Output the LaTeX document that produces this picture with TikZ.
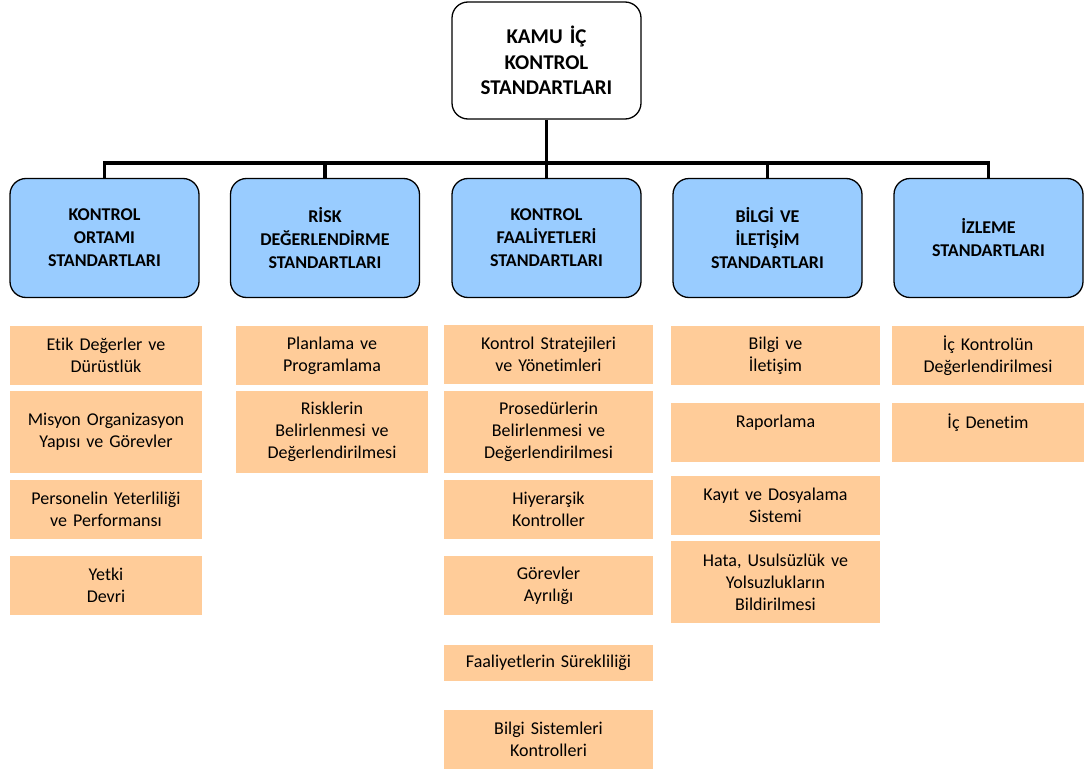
\documentclass[tikz,border=0pt]{standalone}
\usepackage{fontspec}
\setmainfont{Carlito}[Ligatures=NoCommon]
\definecolor{hblue}{HTML}{99CCFF}
\definecolor{iorange}{HTML}{FFCC99}
\tikzset{
  topbox/.style={draw=black, line width=1.3pt, fill=white, rounded corners=16pt, inner sep=0pt,
    minimum width=189pt, minimum height=117pt, text width=180pt, align=center,
    font=\fontsize{21}{25.5}\selectfont\bfseries},
  headbox/.style={draw=black, line width=1.3pt, fill=hblue, rounded corners=16pt, inner sep=0pt,
    minimum width=189pt, minimum height=119pt, text width=180pt, align=center,
    font=\fontsize{18}{23}\selectfont\bfseries},
  item/.style={fill=iorange, draw=none, inner sep=0pt, align=center,
    font=\fontsize{18}{22}\selectfont},
  wA/.style={minimum width=192pt, text width=186pt},
  wB/.style={minimum width=209pt, text width=203pt},
  hS/.style={minimum height=59pt},
  hL/.style={minimum height=82pt},
  hT/.style={minimum height=36pt},
  conn/.style={draw=black, line width=3.6pt}
}
\begin{document}
\begin{tikzpicture}[x=1pt,y=-1pt]
\useasboundingbox (0,0) rectangle (1088,771);
% top
\node[topbox] (top) at (546.5,60.5) {KAMU İÇ\\KONTROL\\STANDARTLARI};
% headers
\node[headbox] (h1) at (104.5,238) {KONTROL\\ORTAMI\\STANDARTLARI};
\node[headbox] (h2) at (325,238) {RİSK\\DEĞERLENDİRME\\STANDARTLARI};
\node[headbox] (h3) at (546.5,238) {KONTROL\\FAALİYETLERİ\\STANDARTLARI};
\node[headbox] (h4) at (767.5,238) {BİLGİ VE\\İLETİŞİM\\STANDARTLARI};
\node[headbox] (h5) at (988.5,238) {İZLEME\\STANDARTLARI};
% connectors
\coordinate (bus) at (0,163);
\draw[conn] (top.south) -- (top.south |- bus);
\draw[conn] (h1.north) -- (h1.north |- bus) -| (h5.north);
\draw[conn] (h2.north) -- (h2.north |- bus);
\draw[conn] (h3.north) -- (h3.north |- bus);
\draw[conn] (h4.north) -- (h4.north |- bus);
% column 1
\node[item,wA,hS] (a1) at (106,355.5) {Etik Değerler ve\\Dürüstlük};
\node[item,wA,hL] (a2) at (106,432) {Misyon Organizasyon\\Yapısı ve Görevler};
\node[item,wA,hS] (a3) at (106,509.5) {Personelin Yeterliliği\\ve Performansı};
\node[item,wA,hS] (a4) at (106,585.5) {Yetki\\Devri};
% column 2
\node[item,wA,hS] (b1) at (332,355.5) {Planlama ve\\Programlama};
\node[item,wA,hL] (b2) at (332,432) {Risklerin\\Belirlenmesi ve\\Değerlendirilmesi};
% column 3
\node[item,wB,hS] (c1) at (548.5,354.5) {Kontrol Stratejileri\\ve Yönetimleri};
\node[item,wB,hL] (c2) at (548.5,432) {Prosedürlerin\\Belirlenmesi ve\\Değerlendirilmesi};
\node[item,wB,hS] (c3) at (548.5,509.5) {Hiyerarşik\\Kontroller};
\node[item,wB,hS] (c4) at (548.5,585.5) {Görevler\\Ayrılığı};
\node[item,wB,hT] (c5) at (548.5,663) {Faaliyetlerin Sürekliliği};
\node[item,wB,hS] (c6) at (548.5,739.5) {Bilgi Sistemleri\\Kontrolleri};
% column 4
\node[item,wB,hS] (d1) at (775.5,355.5) {Bilgi ve\\İletişim};
\node[item,wB,hS] (d2) at (775.5,432.5) {Raporlama\\\mbox{}};
\node[item,wB,hS] (d3) at (775.5,505.5) {Kayıt ve Dosyalama\\Sistemi};
\node[item,wB,hL] (d4) at (775.5,582) {Hata, Usulsüzlük ve\\Yolsuzlukların\\Bildirilmesi};
% column 5
\node[item,wA,hS] (e1) at (988,355.5) {İç Kontrolün\\Değerlendirilmesi};
\node[item,wA,hS] (e2) at (988,432.5) {İç Denetim\\\mbox{}};
\end{tikzpicture}
\end{document}
